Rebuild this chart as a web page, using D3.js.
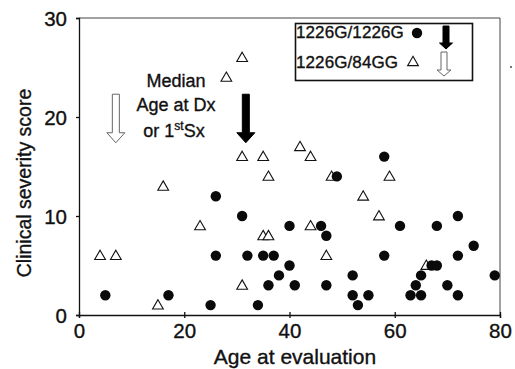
<!DOCTYPE html>
<html>
<head>
<meta charset="utf-8">
<script src="https://cdn.jsdelivr.net/npm/d3@7"></script>
<style>
  body { margin: 0; background: #fff; }
  svg { display: block; font-family: "Liberation Sans", Arial, sans-serif; }
  svg text { stroke: #111; stroke-width: 0.35px; }
</style>
</head>
<body>
<div class="chart"></div>
<script>
// 1226G/1226G (filled circles): age at evaluation, clinical severity score
const homoAge   = [5, 17, 25, 26, 26, 31, 32, 34, 35, 37, 36, 38, 40, 40, 41, 46, 47, 47, 49, 52, 52, 53, 55, 58, 58, 61, 63, 64, 65, 65, 67, 68, 68, 70, 72, 72, 72, 75, 79];
const homoScore = [2, 2, 1, 12, 6, 10, 6, 1, 6, 6, 3, 4, 9, 5, 3, 9, 8, 3, 14, 4, 2, 1, 2, 16, 6, 9, 2, 3, 4, 2, 5, 5, 9, 3, 10, 6, 2, 7, 4];

// 1226G/84GG (open triangles)
const hetAge   = [4, 7, 15, 16, 23, 28, 31, 31, 31, 35, 36, 35, 36, 42, 44, 44, 47, 48, 54, 57, 59, 66];
const hetScore = [6, 6, 1, 13, 9, 24, 26, 16, 3, 16, 14, 8, 8, 17, 16, 9, 6, 14, 12, 10, 14, 5];

// median age at diagnosis / first symptom, per genotype
const medianAge = [31.7, 7];
const medianFill = ["#000", "#fff"];

const groupLabels = ["1226G/1226G", "1226G/84GG"];
const xTicks = [0, 20, 40, 60, 80];
const yTicks = [0, 10, 20, 30];

const width = 515;
const height = 369;
const margin = { top: 18, bottom: 54, left: 79, right: 15 };

const svg = d3.select("div.chart")
    .append("svg")
    .attr("width", width)
    .attr("height", height)
    .attr("viewBox", [0, 0, width, height]);

const x = d3.scaleLinear().domain([0, 80]).range([margin.left, width - margin.right]);
const y = d3.scaleLinear().domain([0, 30]).range([height - margin.bottom, margin.top]);

// frame (top + right)
svg.append("path")
    .attr("fill", "none")
    .attr("stroke", "#444")
    .attr("stroke-width", 1)
    .attr("d", `M${x(0)},${y(30)}H${x(80)}V${y(0)}`);

// axes
const xAxis = svg.append("g")
    .attr("transform", `translate(0,${y(0)})`)
    .call(d3.axisBottom(x).tickValues(xTicks).tickSize(3).tickPadding(16));
const yAxis = svg.append("g")
    .attr("transform", `translate(${x(0)},0)`)
    .call(d3.axisLeft(y).tickValues(yTicks).tickSize(3).tickPadding(9));

[xAxis, yAxis].forEach(g => {
    g.select(".domain").attr("stroke", "#111").attr("stroke-width", 1.3);
    g.selectAll(".tick line").attr("stroke", "#111").attr("stroke-width", 1.3);
    g.selectAll(".tick text")
        .attr("fill", "#111")
        .style("font-size", "20.5px")
        .style("font-family", "'Liberation Sans', Arial, sans-serif");
});
// x ticks cross the axis
xAxis.selectAll(".tick line").attr("y1", -3).attr("y2", 3);
xAxis.selectAll(".tick text").attr("dy", "0.2em");
yAxis.selectAll(".tick text").attr("dy", "0.36em");

// axis titles
svg.append("text")
    .attr("x", 295)
    .attr("y", 364)
    .attr("text-anchor", "middle")
    .style("font-size", "21px")
    .attr("fill", "#111")
    .text("Age at evaluation");

svg.append("text")
    .attr("transform", `translate(31,183) rotate(-90)`)
    .attr("text-anchor", "middle")
    .style("font-size", "19.5px")
    .attr("fill", "#111")
    .text("Clinical severity score");

// triangle marker
const tri = d3.symbol().type(d3.symbolTriangle).size(50);

const hetData = hetAge.map((a, i) => ({ age: a, score: hetScore[i] }));
const homoData = homoAge.map((a, i) => ({ age: a, score: homoScore[i] }));

svg.append("g")
    .selectAll("path")
    .data(hetData)
    .join("path")
    .attr("d", tri)
    .attr("transform", d => `translate(${x(d.age)},${y(d.score) + 0.8})`)
    .attr("fill", "#fff")
    .attr("stroke", "#111")
    .attr("stroke-width", 1.1);

svg.append("g")
    .selectAll("circle")
    .data(homoData)
    .join("circle")
    .attr("cx", d => x(d.age))
    .attr("cy", d => y(d.score))
    .attr("r", 5.2)
    .attr("fill", "#0a0a0a");

// down arrow shape: centre cx, top y0, tip y1
function arrowPath(cx, y0, y1, shaft, head, headLen) {
    const s = shaft / 2, h = head / 2, yh = y1 - headLen;
    return `M${cx - s},${y0}H${cx + s}V${yh}H${cx + h}L${cx},${y1}L${cx - h},${yh}H${cx - s}Z`;
}

// median arrows
svg.append("g")
    .selectAll("path")
    .data(medianAge)
    .join("path")
    .attr("d", d => arrowPath(x(d), y(22.3), y(17.4), 7, 18, 10))
    .attr("fill", (d, i) => medianFill[i])
    .attr("stroke", (d, i) => i === 0 ? "#000" : "#666")
    .attr("stroke-width", 1);

// annotation
const note = svg.append("g")
    .attr("text-anchor", "middle")
    .style("font-size", "18px")
    .attr("fill", "#111");
note.append("text").attr("x", 176).attr("y", 87).text("Median");
note.append("text").attr("x", 176).attr("y", 111).text("Age at Dx");
const sx = note.append("text").attr("x", 174).attr("y", 137);
sx.append("tspan").text("or 1");
sx.append("tspan").attr("dy", -7).style("font-size", "12px").text("st");
sx.append("tspan").attr("dy", 7).text("Sx");

// legend
const legend = svg.append("g");
legend.append("rect")
    .attr("x", 295.5).attr("y", 23.5)
    .attr("width", 177).attr("height", 57)
    .attr("fill", "#fff")
    .attr("stroke", "#111")
    .attr("stroke-width", 1.6);

legend.selectAll("text")
    .data(groupLabels)
    .join("text")
    .attr("x", 296)
    .attr("y", (d, i) => 38 + i * 30)
    .style("font-size", "17px")
    .style("letter-spacing", "0.1px")
    .attr("fill", "#111")
    .text(d => d);

legend.append("circle").attr("cx", 417).attr("cy", 33).attr("r", 5.2).attr("fill", "#0a0a0a");
legend.append("path")
    .attr("d", tri)
    .attr("transform", "translate(413,62.5)")
    .attr("fill", "#fff")
    .attr("stroke", "#111")
    .attr("stroke-width", 1.1);

legend.selectAll("path.arr")
    .data(medianFill)
    .join("path")
    .attr("class", "arr")
    .attr("d", (d, i) => i === 0 ? arrowPath(446, 26, 49, 6, 13, 6) : arrowPath(444, 52, 76, 6, 14, 6))
    .attr("fill", d => d)
    .attr("stroke", (d, i) => i === 0 ? "#000" : "#666")
    .attr("stroke-width", 1);

// stray speck to the right of the frame
svg.append("circle").attr("cx", 511).attr("cy", 67).attr("r", 0.9).attr("fill", "#333");
</script>
</body>
</html>
